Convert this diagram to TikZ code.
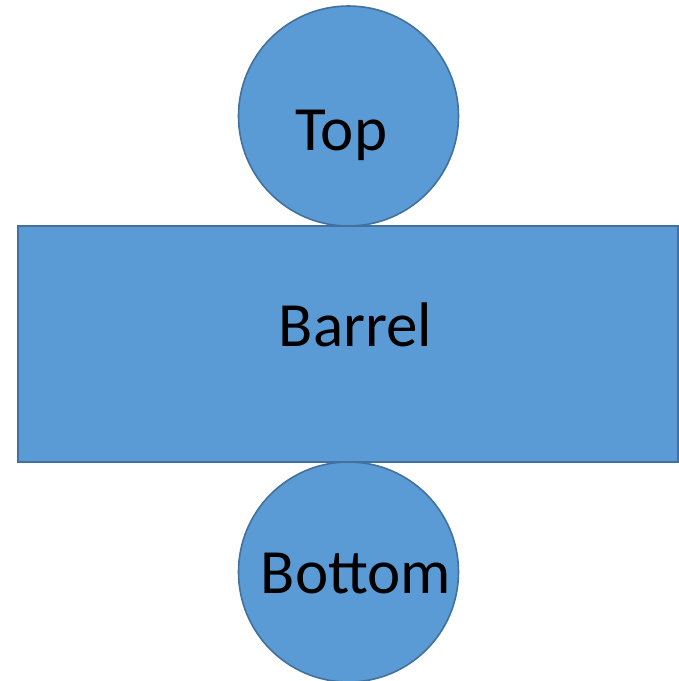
\documentclass[tikz,border=0pt]{standalone}
\usepackage{fontspec}
\setmainfont{Carlito}
\definecolor{partfill}{HTML}{5B9BD5}
\definecolor{partline}{HTML}{41719C}
\begin{document}
\begin{tikzpicture}[x=1pt,y=-1pt,font=\fontsize{63}{72}\selectfont]
			\tikzset{part/.style={draw=partline,fill=partfill,line width=1.6pt,inner sep=0pt},
				lbl/.style={anchor=base,inner sep=0pt}}
			\useasboundingbox (0,0) rectangle (679,681);
			\node[part,circle,minimum size=220pt] (top) at (348.5,116) {};
			\node[part,circle,minimum size=220pt] (bottom) at (348.5,572) {};
			\node[part,rectangle,minimum width=660pt,minimum height=236pt] (barrel) at (348,344) {};
			\node[lbl] (toptext) at (341.5,150) {Top};
			\node[lbl] (barreltext) at (355.5,346) {Barrel};
			\node[lbl] (bottomtext) at (356,593) {Bottom};
		\end{tikzpicture}
\end{document}
